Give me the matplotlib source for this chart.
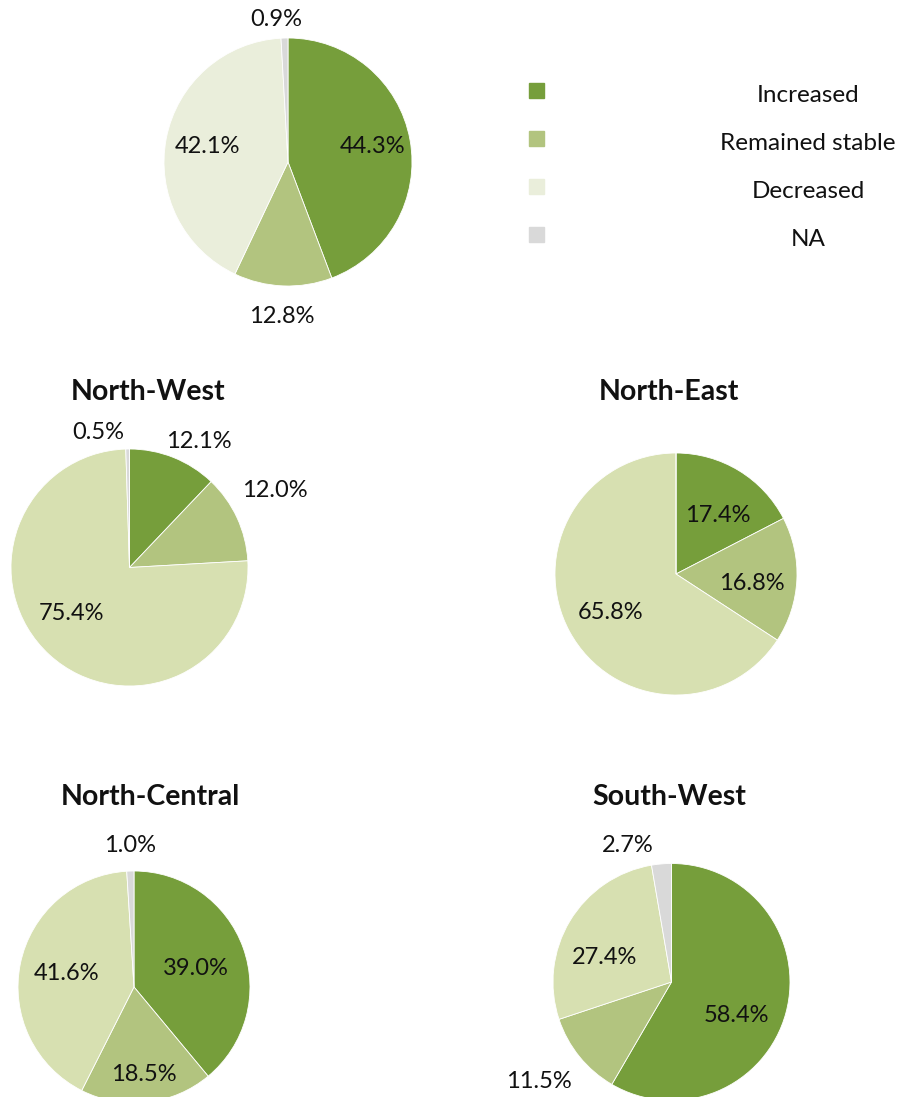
import numpy as np
import matplotlib.pyplot as plt
from matplotlib.patches import Rectangle

plt.rcParams['font.family'] = ['Lato', 'DejaVu Sans']

categories = ['Increased', 'Remained stable', 'Decreased', 'NA']
overall = [44.3, 12.8, 42.1, 0.9]
north_west = [12.1, 12.0, 75.4, 0.5]
north_east = [17.4, 16.8, 65.8, 0.0]
north_central = [39.0, 18.5, 41.6, 1.0]
south_west = [58.4, 11.5, 27.4, 2.7]
titles = ['North-West', 'North-East', 'North-Central', 'South-West']

c_inc = '#769E3B'
c_stab = '#B2C47F'
c_dec_top = '#EAEEDB'
c_dec = '#D7E0B1'
c_na = '#D9D9D9'

W, H = 901, 1097
fig = plt.figure(figsize=(W / 100, H / 100), dpi=100)
ax = fig.add_axes([0, 0, 1, 1])

# (values, centre px, radius px, decreased colour, label (dist, angle nudge))
pies = [
    (overall, (288, 162), 124, c_dec_top,
     [(0.69, 0), (1.25, 0), (0.66, 0), (1.15, 3)]),
    (north_west, (129.5, 567.5), 118.5, c_dec,
     [(1.21, -7), (1.39, 3), (0.63, -9), (1.17, 12)]),
    (north_east, (676, 574), 121, c_dec,
     [(0.59, -4), (0.63, -4), (0.63, 2), None]),
    (north_central, (134, 987), 116, c_dec,
     [(0.56, -3), (0.76, 0), (0.59, 0), (1.22, 0)]),
    (south_west, (671.5, 982), 118.5, c_dec,
     [(0.62, -12), (1.40, -2), (0.60, 11), (1.21, 13)]),
]

for vals, (cx, cy), r, dcol, lpos in pies:
    cy = H - cy
    wedges, _ = ax.pie(vals, colors=[c_inc, c_stab, dcol, c_na], startangle=90,
                       counterclock=False, center=(cx, cy), radius=r,
                       wedgeprops=dict(edgecolor='white', linewidth=0.6))
    for w, v, lp in zip(wedges, vals, lpos):
        if lp is None or v == 0:
            continue
        mid = np.deg2rad((w.theta1 + w.theta2) / 2 + lp[1])
        ax.text(cx + r * lp[0] * np.cos(mid), cy + r * lp[0] * np.sin(mid),
                f'{v:.1f}%', ha='center', va='center', fontsize=17, color='#111111')

# titles
title_xy = [(148, 392), (669, 392), (150, 797), (669, 797)]
for t, (tx, ty) in zip(titles, title_xy):
    ax.text(tx, H - ty, t, ha='center', va='center', fontsize=20.5, fontweight='bold',
            color='#111111')

# legend
leg_colors = [c_inc, c_stab, c_dec_top, c_na]
for i, (lab, col) in enumerate(zip(categories, leg_colors)):
    y = H - (96 + 48 * i)
    ax.add_patch(Rectangle((529, y - 2), 15, 15, color=col))
    ax.text(808, y, lab, ha='center', va='center', fontsize=17.5, color='#111111')

ax.set_xlim(0, W)
ax.set_ylim(0, H)
ax.set_aspect('equal')
ax.axis('off')

fig.savefig('out.png', dpi=100)
